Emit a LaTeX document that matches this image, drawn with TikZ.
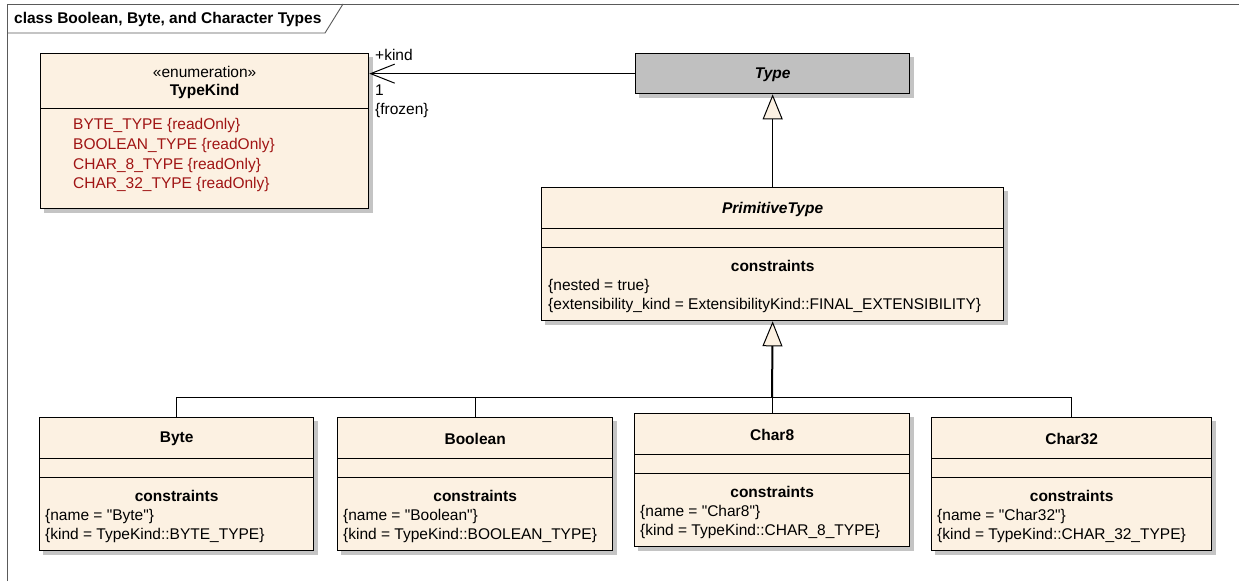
\documentclass[tikz,border=0pt]{standalone}
\usepackage{fontspec}
\setmainfont{Liberation Sans}[Ligatures=TeXOff]
\usetikzlibrary{arrows.meta}
\definecolor{cream}{RGB}{252,241,226}
\definecolor{tgray}{RGB}{192,192,192}
\definecolor{shad}{RGB}{196,196,196}
\definecolor{attrc}{RGB}{160,20,20}
\definecolor{framec}{RGB}{90,90,90}
\newcommand\umlfont{\fontsize{15.5}{18}\selectfont}
\pgfdeclarelayer{bgwhite}
\pgfdeclarelayer{shadowlayer}
\pgfsetlayers{bgwhite,shadowlayer,main}
\newcommand\boxshadow[1]{\begin{pgfonlayer}{shadowlayer}\fill[shad] ([shift={(4pt,-4pt)}]#1.north west) rectangle ([shift={(4pt,-4pt)}]#1.south east);\end{pgfonlayer}}
\begin{document}
\begin{tikzpicture}[x=1pt,y=-1pt,
  classbox/.style={draw=black, line width=1.3pt, fill=cream, inner sep=0pt, anchor=north west},
  divider/.style={draw=black, line width=0.9pt},
  txt/.style={inner sep=0pt, font=\umlfont},
  ltxt/.style={inner sep=0pt, font=\umlfont, anchor=west},
  btxt/.style={inner sep=0pt, font=\umlfont\bfseries},
  attr/.style={inner sep=0pt, font=\umlfont, anchor=west, text=attrc},
  conn/.style={draw=black, line width=1pt},
  gen/.style={draw=black, line width=1pt, -{Triangle[length=25pt,width=20pt,fill=cream,line width=1pt]}},
  assoc/.style={draw=black, line width=1pt, -{Straight Barb[length=24pt,width=19pt,line width=1pt]}}
]
\useasboundingbox (0,0) rectangle (1239,581);
\begin{pgfonlayer}{bgwhite}
\fill[white] (0,0) rectangle (1239,581);
\end{pgfonlayer}
% frame
\draw[framec, line width=0.9pt] (7,581) -- (7,4) -- (1239,4);
\draw[framec, line width=0.9pt] (7,33) -- (325,33) -- (343,4);
\node[btxt, anchor=west] (title) at (14,19) {class Boolean, Byte, and Character Types};

% TypeKind
\node[classbox, minimum width=328pt, minimum height=155pt] (tk) at (40,53) {};
\boxshadow{tk}
\draw[divider] ([yshift=-55pt]tk.north west) -- ([yshift=-55pt]tk.north east);
\node[txt] (tkst) at ([yshift=-19pt]tk.north) {«enumeration»};
\node[btxt] (tkn) at ([yshift=-38pt]tk.north) {TypeKind};
\node[attr] (a1) at ([xshift=33pt,yshift=-72pt]tk.north west) {BYTE\_TYPE \{readOnly\}};
\node[attr] (a2) at ([xshift=33pt,yshift=-92pt]tk.north west) {BOOLEAN\_TYPE \{readOnly\}};
\node[attr] (a3) at ([xshift=33pt,yshift=-112pt]tk.north west) {CHAR\_8\_TYPE \{readOnly\}};
\node[attr] (a4) at ([xshift=33pt,yshift=-131pt]tk.north west) {CHAR\_32\_TYPE \{readOnly\}};

% Type
\node[classbox, fill=tgray, minimum width=274pt, minimum height=40pt] (type) at (635,53) {};
\boxshadow{type}
\node[btxt, font=\umlfont\bfseries\itshape] (typen) at ([yshift=-1pt]type.center) {Type};

% PrimitiveType
\node[classbox, minimum width=462pt, minimum height=133pt] (prim) at (541,187) {};
\boxshadow{prim}
\draw[divider] ([yshift=-41pt]prim.north west) -- ([yshift=-41pt]prim.north east);
\draw[divider] ([yshift=-60pt]prim.north west) -- ([yshift=-60pt]prim.north east);
\node[btxt, font=\umlfont\bfseries\itshape] (primn) at ([yshift=-22pt]prim.north) {PrimitiveType};
\node[btxt] (primc) at ([yshift=-79pt]prim.north) {constraints};
\node[ltxt] (primc1) at ([xshift=7pt,yshift=-99pt]prim.north west) {\{nested = true\}};
\node[ltxt] (primc2) at ([xshift=7pt,yshift=-118pt]prim.north west) {\{extensibility\_kind = ExtensibilityKind::FINAL\_EXTENSIBILITY\}};

% Byte
\node[classbox, minimum width=274pt, minimum height=133pt] (byte) at (39,417) {};
\boxshadow{byte}
\draw[divider] ([yshift=-41pt]byte.north west) -- ([yshift=-41pt]byte.north east);
\draw[divider] ([yshift=-60pt]byte.north west) -- ([yshift=-60pt]byte.north east);
\node[btxt] (byten) at ([yshift=-22pt]byte.north) {Byte};
\node[btxt] (bytec) at ([yshift=-79pt]byte.north) {constraints};
\node[ltxt] (bytec1) at ([xshift=6pt,yshift=-99pt]byte.north west) {\{name = "Byte"\}};
\node[ltxt] (bytec2) at ([xshift=6pt,yshift=-118pt]byte.north west) {\{kind = TypeKind::BYTE\_TYPE\}};

% Boolean
\node[classbox, minimum width=275pt, minimum height=133pt] (bool) at (337,417) {};
\boxshadow{bool}
\draw[divider] ([yshift=-41pt]bool.north west) -- ([yshift=-41pt]bool.north east);
\draw[divider] ([yshift=-60pt]bool.north west) -- ([yshift=-60pt]bool.north east);
\node[btxt] (booln) at ([yshift=-22pt]bool.north) {Boolean};
\node[btxt] (boolc) at ([yshift=-79pt]bool.north) {constraints};
\node[ltxt] (boolc1) at ([xshift=6pt,yshift=-99pt]bool.north west) {\{name = "Boolean"\}};
\node[ltxt] (boolc2) at ([xshift=6pt,yshift=-118pt]bool.north west) {\{kind = TypeKind::BOOLEAN\_TYPE\}};

% Char8
\node[classbox, minimum width=275pt, minimum height=133pt] (c8) at (634,413) {};
\boxshadow{c8}
\draw[divider] ([yshift=-41pt]c8.north west) -- ([yshift=-41pt]c8.north east);
\draw[divider] ([yshift=-60pt]c8.north west) -- ([yshift=-60pt]c8.north east);
\node[btxt] (c8n) at ([yshift=-22pt]c8.north) {Char8};
\node[btxt] (c8c) at ([yshift=-79pt]c8.north) {constraints};
\node[ltxt] (c8c1) at ([xshift=6pt,yshift=-99pt]c8.north west) {\{name = "Char8"\}};
\node[ltxt] (c8c2) at ([xshift=6pt,yshift=-118pt]c8.north west) {\{kind = TypeKind::CHAR\_8\_TYPE\}};

% Char32
\node[classbox, minimum width=280pt, minimum height=133pt] (c32) at (931,417) {};
\boxshadow{c32}
\draw[divider] ([yshift=-41pt]c32.north west) -- ([yshift=-41pt]c32.north east);
\draw[divider] ([yshift=-60pt]c32.north west) -- ([yshift=-60pt]c32.north east);
\node[btxt] (c32n) at ([yshift=-22pt]c32.north) {Char32};
\node[btxt] (c32c) at ([yshift=-79pt]c32.north) {constraints};
\node[ltxt] (c32c1) at ([xshift=6pt,yshift=-99pt]c32.north west) {\{name = "Char32"\}};
\node[ltxt] (c32c2) at ([xshift=6pt,yshift=-118pt]c32.north west) {\{kind = TypeKind::CHAR\_32\_TYPE\}};

% association
\draw[assoc] (type.west) -- (type.west -| tk.east);
\node[ltxt] (akind) at (375,55) {+kind};
\node[ltxt] (amult) at (375,90) {1};
\node[ltxt] (afroz) at (375,110) {\{frozen\}};

% generalizations
\draw[gen] (prim.north) -- (type.south);
\coordinate (busj) at (772,397);
\draw[conn] (byte.north) |- (busj);
\draw[conn] (bool.north) |- (busj);
\draw[conn] (c8.north) |- (busj);
\draw[conn] (c32.north) |- (busj);
\draw[gen, line width=2pt] (busj) -- (prim.south);
\end{tikzpicture}
\end{document}
